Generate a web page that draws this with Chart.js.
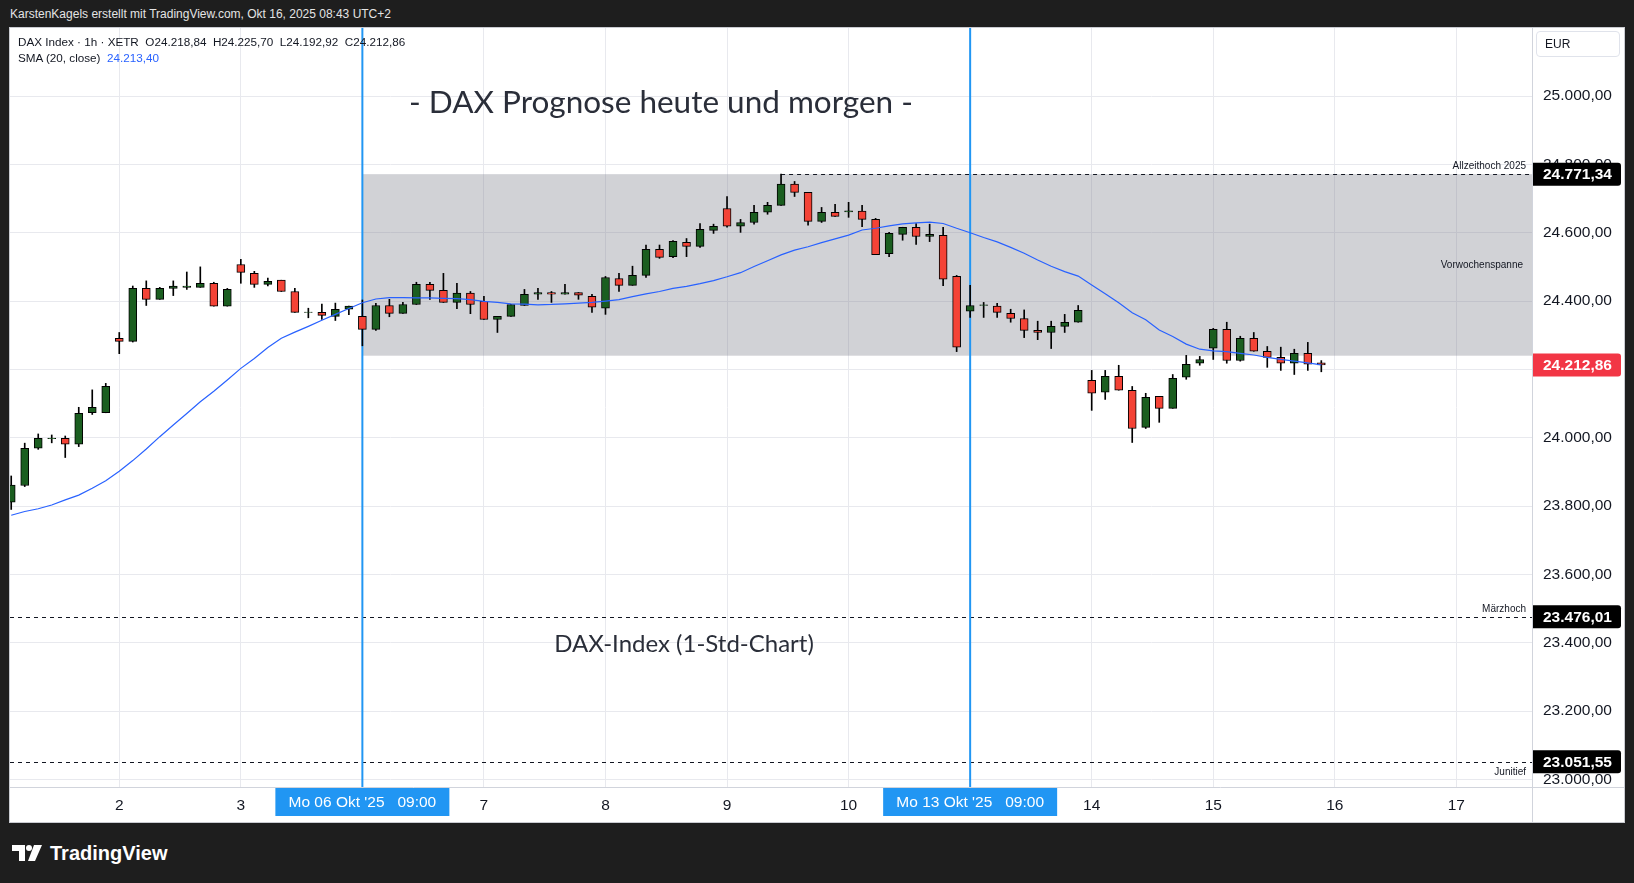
<!DOCTYPE html>
<html>
<head>
<meta charset="utf-8">
<script src="https://cdn.jsdelivr.net/npm/chart.js@4.4.1/dist/chart.umd.min.js"></script>
<style>
  body { margin: 0; background: #1e1e1e; width: 1634px; height: 883px; overflow: hidden; position: relative; font-family: "Liberation Sans", Arial, sans-serif; }
  #hdr { position: absolute; left: 10px; top: 7px; color: #e4e4e4; font-size: 12px; }
  #panel { position: absolute; left: 10px; top: 28px; width: 1614px; height: 794px; background: #fff; box-shadow: 0 0 0 1px #c9cbd1; }
  #panel canvas { position: absolute; left: 0; top: 0; }
  .ov { position: absolute; white-space: pre; color: #131722; line-height: 1; }
  #legend1 { left: 8px; top: 8px; font-size: 11.7px; }
  #legend2 { left: 8px; top: 24px; font-size: 11.7px; }
  #legend2 span { color: #2962ff; }
  #title { left: 651px; top: 74px; transform: translate(-50%, -50%); font-family: Lato, sans-serif; font-size: 31.5px; color: #2a2e39; }
  #subtitle { left: 674px; top: 615px; transform: translate(-50%, -50%); font-family: Lato, sans-serif; font-size: 24px; color: #2a2e39; }
  #eur { left: 1526px; top: 3px; border: 1px solid #e0e3eb; border-radius: 4px; font-size: 12px; line-height: 24px; padding-left: 8px; box-sizing: border-box; width: 84px; height: 26px; }
  #logo { position: absolute; left: 12px; top: 842px; height: 22px; display: flex; align-items: center; color: #fff; font-weight: bold; font-size: 20px; }
  #logo svg { margin-right: 8px; }
</style>
</head>
<body>
<div id="hdr">KarstenKagels erstellt mit TradingView.com, Okt 16, 2025 08:43 UTC+2</div>
<div id="panel">
  <canvas id="chart" width="1614" height="794"></canvas>
  <div class="ov" id="legend1">DAX Index · 1h · XETR  O24.218,84  H24.225,70  L24.192,92  C24.212,86</div>
  <div class="ov" id="legend2">SMA (20, close)  <span>24.213,40</span></div>
  <div class="ov" id="title">- DAX Prognose heute und morgen -</div>
  <div class="ov" id="subtitle">DAX-Index (1-Std-Chart)</div>
  <div class="ov" id="eur">EUR</div>
</div>
<div id="logo">
  <svg width="30" height="18" viewBox="0 0 30 18"><path d="M0 1h13v16H7V7H0z" fill="#fff"/><circle cx="17" cy="4" r="3" fill="#fff"/><path d="M22 1h8l-7 16h-7z" fill="#fff"/></svg>
  TradingView
</div>

<script>
// hourly candles, Oct 1 10:00 .. Oct 15 17:00 (9 bars per trading day)
const opens = [23811, 23860, 23969, 23997, 23998, 23981, 24073, 24073, 24291, 24282,
  24437, 24405, 24437, 24440, 24440, 24452, 24385, 24507, 24481, 24449,
  24461, 24428, 24367, 24367, 24355, 24376, 24355, 24317, 24387, 24364,
  24390, 24449, 24431, 24396, 24423, 24399, 24346, 24355, 24387, 24420,
  24425, 24420, 24425, 24414, 24379, 24466, 24446, 24475, 24551, 24530,
  24572, 24560, 24607, 24671, 24619, 24630, 24660, 24680, 24742, 24718,
  24633, 24660, 24661, 24663, 24639, 24539, 24595, 24616, 24589, 24592,
  24472, 24370, 24387, 24385, 24364, 24349, 24314, 24308, 24326, 24338,
  24168, 24133, 24180, 24139, 24030, 24121, 24086, 24177, 24218, 24262,
  24317, 24226, 24291, 24253, 24235, 24218, 24247, 24218.84];
const highs = [23888, 23984, 24011, 24008, 24005, 24089, 24140, 24159, 24308, 24444,
  24459, 24440, 24459, 24485, 24500, 24455, 24437, 24522, 24487, 24467,
  24461, 24437, 24379, 24391, 24394, 24385, 24403, 24393, 24405, 24396,
  24455, 24455, 24481, 24452, 24428, 24414, 24355, 24390, 24434, 24437,
  24428, 24449, 24425, 24420, 24472, 24481, 24502, 24564, 24564, 24577,
  24583, 24627, 24625, 24706, 24639, 24680, 24689, 24771.34, 24750, 24718,
  24674, 24683, 24689, 24680, 24642, 24601, 24616, 24627, 24625, 24616,
  24475, 24446, 24396, 24393, 24376, 24374, 24341, 24341, 24361, 24387,
  24197, 24197, 24212, 24150, 24130, 24121, 24185, 24241, 24238, 24320,
  24338, 24297, 24308, 24267, 24265, 24259, 24279, 24225.70];
const lows = [23790, 23857, 23966, 23985, 23942, 23974, 24068, 24073, 24246, 24280,
  24387, 24405, 24416, 24434, 24440, 24385, 24385, 24452, 24440, 24444,
  24428, 24367, 24351, 24346, 24343, 24360, 24269, 24314, 24354, 24364,
  24390, 24405, 24396, 24378, 24363, 24346, 24308, 24355, 24387, 24405,
  24396, 24420, 24405, 24367, 24361, 24428, 24446, 24469, 24525, 24527,
  24530, 24557, 24598, 24616, 24601, 24625, 24654, 24680, 24706, 24622,
  24630, 24648, 24645, 24618, 24536, 24530, 24578, 24566, 24574, 24445,
  24252, 24352, 24352, 24352, 24338, 24293, 24287, 24261, 24308, 24338,
  24080, 24112, 24139, 23986, 24027, 24045, 24086, 24171, 24212, 24229,
  24218, 24224, 24253, 24206, 24197, 24185, 24197, 24192.92];
const closes = [23861, 23969, 23998, 23999, 23981, 24071, 24089, 24150, 24282, 24437,
  24405, 24437, 24444, 24444, 24452, 24385, 24434, 24484, 24449, 24458,
  24428, 24367, 24368, 24358, 24376, 24385, 24317, 24387, 24364, 24390,
  24449, 24431, 24396, 24423, 24390, 24346, 24355, 24390, 24420, 24425,
  24420, 24425, 24417, 24382, 24469, 24446, 24475, 24551, 24528, 24575,
  24560, 24610, 24619, 24619, 24630, 24660, 24680, 24742, 24718, 24633,
  24660, 24648, 24664, 24639, 24536, 24598, 24616, 24589, 24595, 24464,
  24265, 24387, 24389, 24367, 24349, 24314, 24308, 24326, 24338, 24373,
  24130, 24180, 24139, 24027, 24118, 24086, 24174, 24215, 24229, 24317,
  24226, 24291, 24253, 24235, 24218, 24247, 24215, 24212.86];
// SMA(20, close)
const sma = [23773, 23784, 23792, 23803, 23818, 23832, 23852, 23874, 23902, 23933,
  23967, 24003, 24037, 24071, 24105, 24136, 24169, 24203, 24232, 24264,
  24291, 24309, 24326, 24344, 24361, 24378, 24395, 24406, 24410, 24410,
  24409, 24409, 24408, 24407, 24404, 24399, 24396, 24392, 24391, 24389,
  24390, 24392, 24394, 24396, 24400, 24404, 24413, 24421, 24428, 24437,
  24443, 24451, 24460, 24471, 24483, 24501, 24518, 24535, 24549, 24559,
  24571, 24582, 24593, 24608, 24613, 24620, 24626, 24629, 24631, 24627,
  24613, 24600, 24586, 24573, 24557, 24540, 24520, 24502, 24486, 24473,
  24447, 24421, 24395, 24366, 24345, 24315, 24296, 24274, 24259, 24254,
  24252, 24247, 24242, 24235, 24229, 24224, 24219, 24213.40];

// time axis: first bar of each day
const dayTicks = [8, 17, 26, 35, 44, 53, 62, 71, 80, 89, 98, 107];
const dayLabels = ['2', '3', '', '7', '8', '9', '10', '', '14', '15', '16', '17'];
const markerBars = [26, 71];
const markerLabels = ["Mo 06 Okt '25   09:00", "Mo 13 Okt '25   09:00"];

const yTicks = [23000, 23200, 23400, 23600, 23800, 24000, 24200, 24400, 24600, 24800, 25000];

// previous-week range box
const rangeStart = 26;
const rangeHigh = 24771.34;
const rangeLow = 24240;

// horizontal levels
const levelValues = [24771.34, 23476.01, 23051.55];
const levelNames = ['Allzeithoch 2025', 'Märzhoch', 'Junitief'];
const levelFrom = [57, null, null];
const levelTextBelow = [false, false, true];

const lastClose = 24212.86;

const UP = '#1b5e20', DOWN = '#f44336';
const AXIS_FONT = { family: '"Liberation Sans", Arial, sans-serif', size: 15.5 };

function fmt(v) {
  const parts = v.toFixed(2).split('.');
  return parts[0].replace(/\B(?=(\d{3})+(?!\d))/g, '.') + ',' + parts[1];
}

const overlay = {
  id: 'overlay',
  beforeDatasetsDraw(chart) {
    const { ctx, chartArea: a, scales: { x, y } } = chart;
    ctx.save();
    ctx.beginPath();
    ctx.rect(a.left, a.top, a.width, a.height);
    ctx.clip();

    // Vorwochenspanne
    const bx = x.getPixelForValue(rangeStart);
    const top = y.getPixelForValue(rangeHigh), bot = y.getPixelForValue(rangeLow);
    ctx.fillStyle = 'rgba(120,123,134,0.34)';
    ctx.fillRect(bx, top, a.right - bx, bot - top);
    ctx.font = '10px "Liberation Sans", Arial, sans-serif';
    ctx.fillStyle = '#131722';
    ctx.textAlign = 'right';
    ctx.textBaseline = 'middle';
    ctx.fillText('Vorwochenspanne', a.right - 9, (top + bot) / 2);

    // dashed levels
    ctx.strokeStyle = '#131722';
    ctx.lineWidth = 1;
    ctx.setLineDash([4, 4]);
    levelValues.forEach((v, i) => {
      const py = Math.round(y.getPixelForValue(v)) + 0.5;
      const x0 = levelFrom[i] === null ? a.left : x.getPixelForValue(levelFrom[i]);
      ctx.beginPath();
      ctx.moveTo(x0, py);
      ctx.lineTo(a.right, py);
      ctx.stroke();
      ctx.textBaseline = levelTextBelow[i] ? 'top' : 'bottom';
      ctx.fillText(levelNames[i], a.right - 6, levelTextBelow[i] ? py + 5 : py - 3);
    });
    ctx.setLineDash([]);

    // vertical markers
    ctx.strokeStyle = '#2196f3';
    ctx.lineWidth = 2;
    markerBars.forEach(b => {
      const px = x.getPixelForValue(b);
      ctx.beginPath();
      ctx.moveTo(px, a.top);
      ctx.lineTo(px, a.bottom);
      ctx.stroke();
    });
    ctx.restore();
  },
  afterDraw(chart) {
    const { ctx, chartArea: a, scales: { x, y } } = chart;
    ctx.save();
    // axis separators
    ctx.strokeStyle = '#d1d4dc';
    ctx.lineWidth = 1;
    ctx.beginPath();
    ctx.moveTo(0, a.bottom + 0.5);
    ctx.lineTo(chart.width, a.bottom + 0.5);
    ctx.moveTo(a.right + 0.5, 0);
    ctx.lineTo(a.right + 0.5, chart.height);
    ctx.stroke();

    // price labels on the right axis
    ctx.font = 'bold 15.5px "Liberation Sans", Arial, sans-serif';
    ctx.textAlign = 'left';
    ctx.textBaseline = 'middle';
    const tags = levelValues.concat([lastClose]);
    tags.forEach(v => {
      const py = y.getPixelForValue(v);
      ctx.fillStyle = v === lastClose ? '#f23645' : '#000';
      ctx.beginPath();
      ctx.roundRect(a.right + 1, py - 11.5, 88, 23, [0, 3, 3, 0]);
      ctx.fill();
      ctx.fillStyle = '#fff';
      ctx.fillText(fmt(v), a.right + 11, py + 0.5);
    });

    // time markers on the bottom axis
    ctx.font = '15.5px "Liberation Sans", Arial, sans-serif';
    ctx.textAlign = 'center';
    markerBars.forEach((b, i) => {
      const px = x.getPixelForValue(b);
      ctx.fillStyle = '#2196f3';
      ctx.fillRect(px - 87, a.bottom + 1, 174, 28);
      ctx.fillStyle = '#fff';
      ctx.fillText(markerLabels[i], px, a.bottom + 15.5);
    });
    ctx.restore();
  }
};

const ctx = document.getElementById('chart').getContext('2d');
new Chart(ctx, {
  type: 'bar',
  data: {
    datasets: [
      {
        type: 'line',
        data: sma.map((v, i) => ({ x: i, y: v })),
        borderColor: '#2962ff',
        borderWidth: 1.2,
        pointRadius: 0,
        tension: 0,
        order: 0
      },
      {
        data: opens.map((o, i) => ({ x: i, y: [o, closes[i]] })),
        backgroundColor: opens.map((o, i) => closes[i] >= o ? UP : DOWN),
        borderColor: '#000',
        borderWidth: 1,
        borderSkipped: false,
        barThickness: 8,
        grouped: false,
        order: 1
      },
      {
        data: lows.map((l, i) => ({ x: i, y: [l, highs[i]] })),
        backgroundColor: '#000',
        borderWidth: 0,
        barThickness: 1,
        grouped: false,
        order: 2
      }
    ]
  },
  options: {
    responsive: false,
    animation: false,
    devicePixelRatio: 1,
    layout: { padding: { left: 0, right: 1, top: 0, bottom: 0 } },
    plugins: { legend: { display: false }, tooltip: { enabled: false } },
    scales: {
      x: {
        type: 'linear',
        min: -0.09,
        max: 112.6,
        offset: false,
        grid: { color: '#e8e9ee', drawTicks: false, offset: false },
        border: { display: false },
        afterBuildTicks: s => { s.ticks = dayTicks.map(v => ({ value: v })); },
        afterFit: s => { s.height = 35; s.paddingLeft = 0; s.paddingRight = 0; },
        ticks: {
          autoSkip: false,
          maxRotation: 0,
          padding: 9,
          color: '#131722',
          font: AXIS_FONT,
          callback: (v, i) => dayLabels[i]
        }
      },
      y: {
        position: 'right',
        min: 22977.6,
        max: 25199.2,
        grid: { color: '#e8e9ee', drawTicks: false },
        border: { display: false },
        afterBuildTicks: s => { s.ticks = yTicks.map(v => ({ value: v })); },
        afterFit: s => { s.width = 91; s.paddingTop = 0; s.paddingBottom = 0; },
        ticks: {
          padding: 11,
          color: '#131722',
          font: AXIS_FONT,
          callback: v => fmt(v)
        }
      }
    }
  },
  plugins: [overlay]
});
</script>
</body>
</html>
